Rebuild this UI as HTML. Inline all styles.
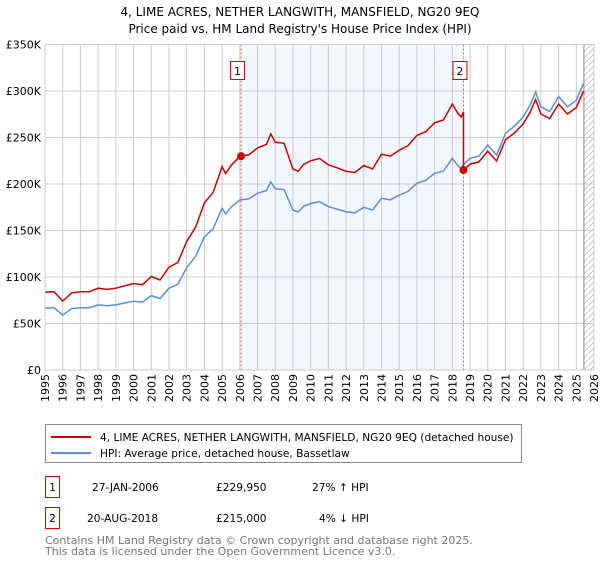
<!DOCTYPE html>
<html><head><meta charset="utf-8"><style>
body{margin:0;background:#fff;font-family:"DejaVu Sans","Liberation Sans",sans-serif;}
svg text{font-family:"DejaVu Sans","Liberation Sans",sans-serif;}
</style></head><body>
<svg id="c" width="600" height="560" xmlns="http://www.w3.org/2000/svg">
<text x="300" y="16" text-anchor="middle" font-size="12" fill="#000">4, LIME ACRES, NETHER LANGWITH, MANSFIELD, NG20 9EQ</text>
<text x="300" y="33" text-anchor="middle" font-size="12" fill="#000">Price paid vs. HM Land Registry's House Price Index (HPI)</text>
<g id="plot"></g>
<g>
<rect x="45.5" y="424.5" width="476" height="38" fill="#fff" stroke="#888"/>
<line x1="51" y1="437" x2="91" y2="437" stroke="#cc0000" stroke-width="2"/>
<text x="100" y="441" font-size="10.6">4, LIME ACRES, NETHER LANGWITH, MANSFIELD, NG20 9EQ (detached house)</text>
<line x1="51" y1="453" x2="91" y2="453" stroke="#5b8fd4" stroke-width="2"/>
<text x="100" y="457" font-size="10.6">HPI: Average price, detached house, Bassetlaw</text>
</g>
<g font-size="10.6">
<rect x="45.5" y="476.5" width="14" height="21" fill="#fff" stroke="#cc0000"/>
<text x="52.5" y="491" text-anchor="middle">1</text>
<text x="92" y="491">27-JAN-2006</text>
<text x="216" y="491">£229,950</text>
<text x="312" y="491">27% ↑ HPI</text>
<rect x="45.5" y="507.5" width="14" height="21" fill="#fff" stroke="#cc0000"/>
<text x="52.5" y="522" text-anchor="middle">2</text>
<text x="87" y="522">20-AUG-2018</text>
<text x="216" y="522">£215,000</text>
<text x="319" y="522">4% ↓ HPI</text>
</g>
<text x="45" y="544" font-size="11" fill="#777">Contains HM Land Registry data © Crown copyright and database right 2025.</text>
<text x="45" y="555" font-size="11" fill="#777">This data is licensed under the Open Government Licence v3.0.</text>
</svg>
<script>
const hpiYears=[1995,1995.5,1996,1996.5,1997,1997.5,1998,1998.5,1999,1999.5,2000,2000.5,2001,2001.5,2002,2002.5,2003,2003.5,2004,2004.5,2005,2005.2,2005.5,2006,2006.5,2007,2007.5,2007.75,2008,2008.5,2009,2009.3,2009.6,2010,2010.5,2011,2011.5,2012,2012.5,2013,2013.5,2014,2014.5,2015,2015.5,2016,2016.5,2017,2017.5,2018,2018.3,2018.5,2018.63,2019,2019.5,2020,2020.5,2021,2021.5,2022,2022.4,2022.7,2023,2023.5,2024,2024.5,2025,2025.4];
const hpiValues=[66.5,67,59,66,67,67,70,69,70,72,74,73,80,77,88,92,110,122,143,152,174,168,175,182.8,184,190,193,202,195,194,172,170,176,179,181,175.6,173,170,169,175,172,184.6,183,188,192,200.7,204,211.5,214,227.6,220,216.4,221,227.6,230,242,231,254.5,262,272,285,299,283,278,294,283,290,308];
const sales=[{t:2006.07,v:229.95},{t:2018.63,v:215}];
const yTicks=[0,50,100,150,200,250,300,350];
const yTickLabels=['£0','£50K','£100K','£150K','£200K','£250K','£300K','£350K'];
const xYears=[1995,1996,1997,1998,1999,2000,2001,2002,2003,2004,2005,2006,2007,2008,2009,2010,2011,2012,2013,2014,2015,2016,2017,2018,2019,2020,2021,2022,2023,2024,2025,2026];
const L=45,R=594,T=44.5,B=370;
const X=t=>L+(t-1995)*(R-L)/31;
const Y=v=>B-v*(B-T)/350;
const ns='http://www.w3.org/2000/svg';
const g=document.getElementById('plot');
function mk(tag,attrs,parent){const e=document.createElementNS(ns,tag);for(const k in attrs)e.setAttribute(k,attrs[k]);(parent||g).appendChild(e);return e;}
function interp(t){for(let i=0;i<hpiYears.length-1;i++){if(t>=hpiYears[i]&&t<=hpiYears[i+1]){const f=(t-hpiYears[i])/(hpiYears[i+1]-hpiYears[i]);return hpiValues[i]+f*(hpiValues[i+1]-hpiValues[i]);}}return hpiValues[hpiValues.length-1];}
const shade=mk('rect',{x:X(sales[0].t),y:T,width:X(sales[1].t)-X(sales[0].t),height:B-T,fill:'#f2f6fe'});


const defs=mk('defs',{});
const pat=mk('pattern',{id:'hatch',width:6,height:6,patternUnits:'userSpaceOnUse'},defs);
mk('path',{d:'M0,6 L6,0',stroke:'#bbb','stroke-width':0.8},pat);
const hz=mk('rect',{x:X(2025.43),y:T,width:R-X(2025.43),height:B-T,fill:'url(#hatch)'});


yTicks.forEach((v,i)=>{
 const ln=mk('line',{x1:L,x2:R,y1:Y(v),y2:Y(v),stroke:'#ccc','stroke-width':1});
 
 
 const tx=mk('text',{x:L-4,y:Y(v)+4,'text-anchor':'end','font-size':11});
 
 
 tx.textContent=yTickLabels[i];
});
xYears.forEach(y=>{
 const ln=mk('line',{x1:X(y),x2:X(y),y1:T,y2:B,stroke:'#ccc','stroke-width':1});
 
 
 const tx=mk('text',{x:0,y:0,'text-anchor':'end','font-size':11,transform:`translate(${X(y)+4},${B+4}) rotate(-90)`});
 
 
 tx.textContent=y;
});
const ax=mk('line',{x1:X(2025.43),x2:X(2025.43),y1:T,y2:B,stroke:'#888','stroke-width':1});


sales.forEach((s,i)=>{
 const ln=mk('line',{x1:X(s.t),x2:X(s.t),y1:T,y2:B,stroke:'#e06060','stroke-width':1,'stroke-dasharray':'2,2'});
 
 
 const bx=mk('rect',{x:X(s.t)-10.5,y:61.5,width:14,height:18,fill:'#fff',stroke:'#cc0000'});
 
 
 const tx=mk('text',{x:X(s.t)-3.5,y:75,'text-anchor':'middle','font-size':11});
 
 
 tx.textContent=String(i+1);
});
let d='';hpiYears.forEach((t,i)=>{d+=(i?'L':'M')+X(t).toFixed(1)+','+Y(hpiValues[i]).toFixed(1);});
const hp=mk('path',{d:d,fill:'none',stroke:'#5b8fd4','stroke-width':1.5});


const r1=sales[0].v/interp(sales[0].t), r2=sales[1].v/interp(sales[1].t);
let pd='';let first=true;
hpiYears.forEach((t,i)=>{ if(t<sales[1].t){pd+=(first?'M':'L')+X(t).toFixed(1)+','+Y(hpiValues[i]*r1).toFixed(1);first=false;} });
pd+='L'+X(sales[1].t).toFixed(1)+','+Y(interp(sales[1].t)*r1).toFixed(1);
pd+='L'+X(sales[1].t).toFixed(1)+','+Y(sales[1].v).toFixed(1);
hpiYears.forEach((t,i)=>{ if(t>sales[1].t){pd+='L'+X(t).toFixed(1)+','+Y(hpiValues[i]*r2).toFixed(1);} });
const pp=mk('path',{d:pd,fill:'none',stroke:'#cc0000','stroke-width':1.5});


sales.forEach((s,i)=>{
 const c=mk('circle',{cx:X(s.t),cy:Y(s.v),r:4,fill:'#cc0000'});
 
 
});
const fr=mk('rect',{x:L,y:T,width:R-L,height:B-T,fill:'none',stroke:'#ccc'});


</script>
</body></html>
